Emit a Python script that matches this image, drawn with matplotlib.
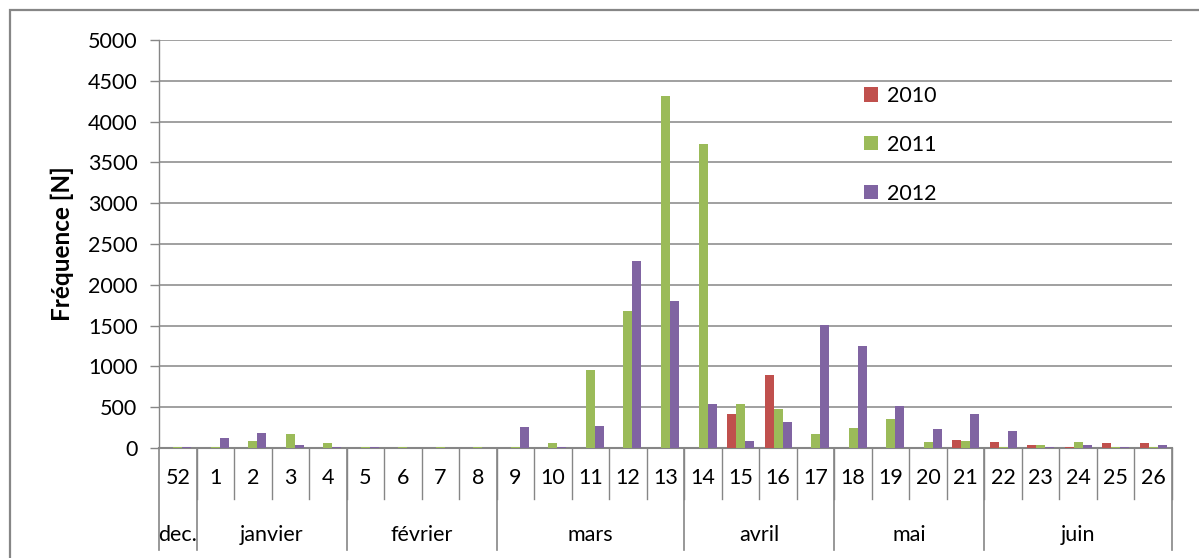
import matplotlib
matplotlib.use("Agg")
import numpy as np
import matplotlib.pyplot as plt
import matplotlib.transforms as mtransforms
from matplotlib.patches import Rectangle

# weekly counts, week 52 of the previous year through week 26
weeks = ["52", "1", "2", "3", "4", "5", "6", "7", "8", "9", "10", "11", "12", "13",
         "14", "15", "16", "17", "18", "19", "20", "21", "22", "23", "24", "25", "26"]
months = ["dec.", "janvier", "février", "mars", "avril", "mai", "juin"]
weeks_per_month = [1, 4, 4, 5, 4, 4, 5]

years = ["2010", "2011", "2012"]
freq_2010 = [0, 0, 0, 0, 0, 0, 0, 0, 0, 0, 0, 0, 0, 0,
             0, 416, 900, 0, 0, 0, 0, 98, 73, 37, 15, 61, 61]
freq_2011 = [18, 18, 85, 170, 60, 18, 18, 18, 18, 18, 60, 960, 1680, 4310,
             3720, 540, 478, 171, 245, 355, 73, 86, 18, 37, 73, 18, 18]
freq_2012 = [18, 120, 180, 35, 18, 18, 0, 0, 0, 254, 18, 266, 2290, 1800,
             540, 86, 318, 1510, 1255, 515, 233, 416, 208, 18, 37, 18, 37]

colors = ["#C0504D", "#9BBB59", "#8064A2"]
grey = "#868686"
font = "Lato"

W, H = 1199, 558
fig = plt.figure(figsize=(W / 100, H / 100), dpi=100)
ax = fig.add_axes([159 / W, 1 - 448 / H, (1172 - 159) / W, (448 - 40) / H])

x = np.arange(len(weeks))
bw = 0.24
for k, (vals, c, lab) in enumerate(zip([freq_2010, freq_2011, freq_2012], colors, years)):
    ax.bar(x + (k - 1) * bw, vals, width=bw, color=c, label=lab, zorder=3)

ax.set_xlim(-0.5, len(weeks) - 0.5)
ax.set_ylim(0, 5000)
ax.set_yticks(np.arange(0, 5001, 500))
ax.yaxis.grid(True, color=grey, linewidth=1.1, zorder=0)
ax.set_axisbelow(True)
ax.set_xticks([])
ax.tick_params(axis="y", direction="out", length=6.5, width=1.0, color=grey, pad=9,
               labelsize=15.5)
for t in ax.get_yticklabels():
    t.set_fontfamily(font)

for side in ["top", "right"]:
    ax.spines[side].set_visible(False)
ax.spines["left"].set_color(grey)
ax.spines["bottom"].set_color(grey)
ax.spines["left"].set_linewidth(1.0)
ax.spines["bottom"].set_linewidth(1.5)

ax.set_ylabel("Fréquence [N]", fontsize=17.5, fontweight="bold", family=font, labelpad=10)

# category axis: week row and month row underneath the plot
trans = mtransforms.blended_transform_factory(ax.transData, ax.transAxes)
for i, w in enumerate(weeks):
    ax.text(i, -0.074, w, transform=trans, ha="center", va="center",
            fontsize=15.5, family=font)
    ax.plot([i + 0.5, i + 0.5], [0, -0.125], transform=trans, color=grey,
            linewidth=1.0, clip_on=False)

edges = np.concatenate([[0], np.cumsum(weeks_per_month)]) - 0.5
for m, lo, hi in zip(months, edges[:-1], edges[1:]):
    ax.text((lo + hi) / 2, -0.213, m, transform=trans, ha="center", va="center",
            fontsize=15.5, family=font)
for e in edges:
    ax.plot([e, e], [0, -0.25], transform=trans, color=grey, linewidth=1.2,
            clip_on=False)

leg = ax.legend(loc="upper left", bbox_to_anchor=(864 / W, 1 - 86 / H),
                bbox_transform=fig.transFigure, frameon=False,
                prop={"family": font, "size": 15.5}, handlelength=0.65,
                handleheight=0.65, handletextpad=0.4, labelspacing=1.34,
                borderpad=0, borderaxespad=0)

# chart frame, open on the right and bottom
fig.patches.append(Rectangle((10 / W, -0.1), 1.2, 1.1 - 10 / H, transform=fig.transFigure,
                             fill=False, edgecolor=grey, linewidth=1.6))

fig.savefig("out.png", dpi=100)
